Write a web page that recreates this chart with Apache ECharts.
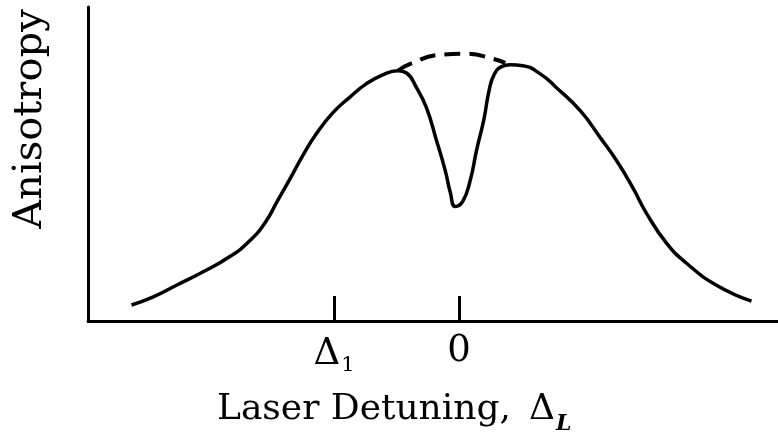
<!DOCTYPE html>
<html>
<head>
<meta charset="utf-8">
<script src="https://cdn.jsdelivr.net/npm/echarts@6/dist/echarts.min.js"></script>
<style>
  html, body { margin: 0; padding: 0; background: #fff; }
  #chart { width: 778px; height: 440px; }
</style>
</head>
<body>
<div id="chart"></div>
<script>
// Detuning in units of Δ1 (Δ1 = -1, line centre = 0)
var detuning = [-2.62, -2.45, -2.26, -2.05, -1.83, -1.67, -1.55, -1.45, -1.35, -1.25,
                -1.14, -1.01, -0.87, -0.74, -0.61, -0.49, -0.42, -0.34, -0.26, -0.18,
                -0.11, -0.07, -0.03, 0.03, 0.09, 0.14, 0.20, 0.24, 0.28, 0.34,
                0.41, 0.51, 0.65, 0.78, 0.97, 1.13, 1.26, 1.39, 1.50, 1.66,
                1.82, 2.06, 2.34];
// Measured anisotropy (arbitrary units)
var anisotropy = [5.1, 7.6, 11.4, 15.6, 20.6, 25.7, 31.4, 38.4, 45.4, 52.7,
                  59.7, 66.3, 71.4, 75.6, 78.4, 79.7, 79.0, 74.3, 67.9, 57.5,
                  47.9, 41.0, 36.5, 38.1, 44.8, 54.3, 64.4, 73.3, 78.4, 81.0,
                  81.6, 81.3, 78.7, 74.3, 67.0, 58.4, 51.1, 42.5, 34.3, 24.8,
                  18.4, 11.4, 6.3];
// Envelope without the central dip (dashed)
var envelopeX = [-0.49, -0.39, -0.15, 0.06, 0.27, 0.37];
var envelopeY = [79.7, 81.9, 84.8, 85.1, 83.5, 82.2];
// Marked detunings on the axis
var tickValues = [-1, 0];
var tickNames = { '-1': ['Δ', '1'], '0': ['0', ''] };

function pairs(xs, ys) {
  return xs.map(function (x, i) { return [x, ys[i]]; });
}

var serif = 'DejaVu Serif';
var chart = echarts.init(document.getElementById('chart'));
chart.setOption({
  animation: false,
  backgroundColor: '#fff',
  grid: { left: 88, right: 0, top: 7, bottom: 119 },
  xAxis: {
    type: 'value',
    min: -2.968,
    max: 2.552,
    splitLine: { show: false },
    axisLine: { onZero: false, lineStyle: { color: '#000', width: 3 } },
    axisTick: {
      customValues: tickValues,
      inside: true,
      length: 25,
      lineStyle: { color: '#000', width: 3 }
    },
    axisLabel: {
      customValues: tickValues,
      margin: 12,
      formatter: function (v) {
        var t = tickNames[String(v)];
        return t[1] ? '{d|' + t[0] + '}{s|' + t[1] + '}' : '{d|' + t[0] + '}';
      },
      rich: {
        d: { fontFamily: serif, fontSize: 37, color: '#000' },
        s: { fontFamily: serif, fontSize: 21, color: '#000', padding: [22, 0, 0, 1] }
      }
    }
  },
  yAxis: {
    type: 'value',
    min: 0,
    max: 100,
    splitLine: { show: false },
    axisTick: { show: false },
    axisLabel: { show: false },
    axisLine: { onZero: false, lineStyle: { color: '#000', width: 3 } }
  },
  graphic: [
    {
      type: 'text',
      x: 31, y: 119,
      rotation: Math.PI / 2,
      style: {
        text: 'Anisotropy',
        fontFamily: serif, fontSize: 40, fill: '#000',
        align: 'center', verticalAlign: 'middle'
      }
    },
    {
      type: 'text',
      x: 217, y: 410,
      style: {
        text: 'Laser Detuning,',
        fontFamily: serif, fontSize: 36, fill: '#000',
        align: 'left', verticalAlign: 'middle'
      }
    },
    {
      type: 'text',
      x: 529, y: 410,
      style: {
        text: 'Δ',
        fontFamily: serif, fontSize: 36, fill: '#000',
        align: 'left', verticalAlign: 'middle'
      }
    },
    {
      type: 'text',
      x: 556, y: 424,
      style: {
        text: 'L',
        fontFamily: serif, fontSize: 22, fontWeight: 'bold', fontStyle: 'italic', fill: '#000',
        align: 'left', verticalAlign: 'middle'
      }
    }
  ],
  series: [
    {
      type: 'line',
      data: pairs(detuning, anisotropy),
      smooth: 0.5,
      symbol: 'none',
      lineStyle: { color: '#000', width: 3.5 }
    },
    {
      type: 'line',
      data: pairs(envelopeX, envelopeY),
      smooth: 0.5,
      symbol: 'none',
      lineStyle: { color: '#000', width: 4, type: [16, 9] }
    }
  ]
});
</script>
</body>
</html>
